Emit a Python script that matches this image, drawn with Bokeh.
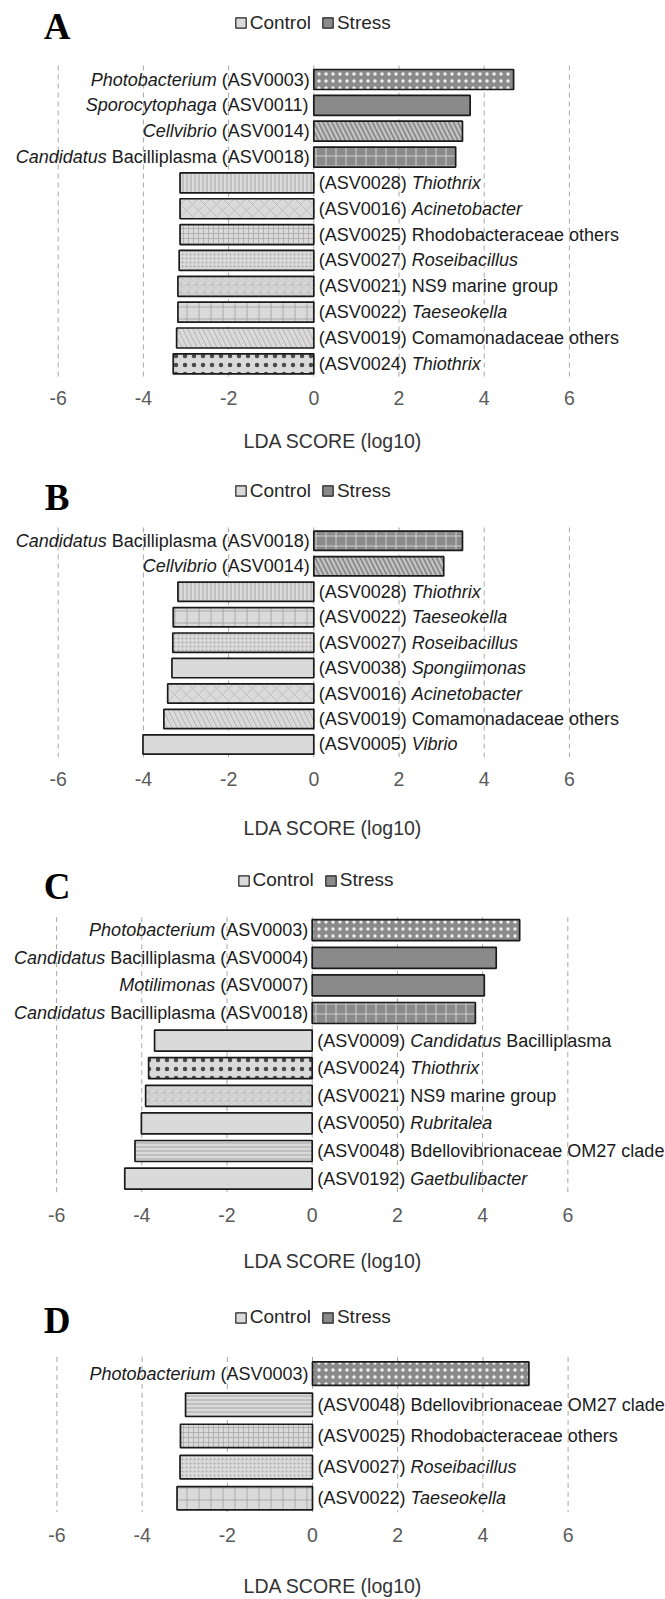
from bokeh.plotting import figure
from bokeh.layouts import column
from bokeh.models import Range1d, FixedTicker, Legend, LegendItem, Label, ColumnDataSource
from bokeh.core.properties import value
from bokeh.embed import file_html
from bokeh.resources import INLINE

# ---------------- data ----------------
ticks = [-6, -4, -2, 0, 2, 4, 6]
tick_labels = ["-6", "-4", "-2", "0", "2", "4", "6"]
legend_labels = ["Control", "Stress"]
axis_title = "LDA SCORE (log10)"
panel_letters = ["A", "B", "C", "D"]

a_asv = ["ASV0003", "ASV0011", "ASV0014", "ASV0018", "ASV0028", "ASV0016",
         "ASV0025", "ASV0027", "ASV0021", "ASV0022", "ASV0019", "ASV0024"]
a_taxa = ["Photobacterium", "Sporocytophaga", "Cellvibrio", "Candidatus Bacilliplasma",
          "Thiothrix", "Acinetobacter", "Rhodobacteraceae others", "Roseibacillus",
          "NS9 marine group", "Taeseokella", "Comamonadaceae others", "Thiothrix"]
a_lda = [4.69, 3.67, 3.49, 3.33, -3.14, -3.14, -3.14, -3.16, -3.19, -3.19, -3.22, -3.30]

b_asv = ["ASV0018", "ASV0014", "ASV0028", "ASV0022", "ASV0027", "ASV0038",
         "ASV0016", "ASV0019", "ASV0005"]
b_taxa = ["Candidatus Bacilliplasma", "Cellvibrio", "Thiothrix", "Taeseokella",
          "Roseibacillus", "Spongiimonas", "Acinetobacter", "Comamonadaceae others", "Vibrio"]
b_lda = [3.49, 3.05, -3.19, -3.30, -3.31, -3.33, -3.43, -3.52, -4.01]

c_asv = ["ASV0003", "ASV0004", "ASV0007", "ASV0018", "ASV0009", "ASV0024",
         "ASV0021", "ASV0050", "ASV0048", "ASV0192"]
c_taxa = ["Photobacterium", "Candidatus Bacilliplasma", "Motilimonas", "Candidatus Bacilliplasma",
          "Candidatus Bacilliplasma", "Thiothrix", "NS9 marine group", "Rubritalea",
          "Bdellovibrionaceae OM27 clade", "Gaetbulibacter"]
c_lda = [4.87, 4.32, 4.04, 3.83, -3.70, -3.84, -3.91, -4.01, -4.16, -4.40]

d_asv = ["ASV0003", "ASV0048", "ASV0025", "ASV0027", "ASV0022"]
d_taxa = ["Photobacterium", "Bdellovibrionaceae OM27 clade", "Rhodobacteraceae others",
          "Roseibacillus", "Taeseokella"]
d_lda = [5.08, -2.98, -3.10, -3.11, -3.18]

# ---------------- styles ----------------
DARK = "#8a8a8a"
LIGHT = "#dadada"
EDGE = "#1a1a1a"
# asv -> (hatch pattern, hatch colour, scale, weight)
PAT = {
    "ASV0003": ("dot", "#eeeeee", 7, 0.5),
    "ASV0011": ("blank", "#000000", 8, 1),
    "ASV0014": ("left_diagonal_line", "#c4c4c4", 9, 2.2),
    "ASV0018": ("cross", "#cfcfcf", 10, 1),
    "ASV0004": ("blank", "#000000", 8, 1),
    "ASV0007": ("blank", "#000000", 8, 1),
    "ASV0028": ("vertical_line", "#a8a8a8", 4, 1),
    "ASV0016": ("diagonal_cross", "#b8b8b8", 12, 0.8),
    "ASV0025": ("cross", "#a8a8a8", 5, 0.8),
    "ASV0027": ("dot", "#a8a8a8", 4, 0.5),
    "ASV0021": ("criss_cross", "#c2c2c2", 8, 1),
    "ASV0022": ("cross", "#a4a4a4", 12, 0.9),
    "ASV0019": ("left_diagonal_line", "#b4b4b4", 10, 1),
    "ASV0024": ("dot", "#4a4a4a", 9, 0.3),
    "ASV0038": ("blank", "#000000", 8, 1),
    "ASV0005": ("blank", "#000000", 8, 1),
    "ASV0009": ("blank", "#000000", 8, 1),
    "ASV0050": ("blank", "#000000", 8, 1),
    "ASV0048": ("horizontal_line", "#a4a4a4", 4, 1),
    "ASV0192": ("blank", "#000000", 8, 1),
}

# Arial / Liberation Sans advance widths (1/1000 em)
WID = {" ": 278, "(": 333, ")": 333, "A": 667, "B": 667, "C": 722, "D": 722, "E": 667,
       "F": 611, "G": 778, "H": 722, "I": 278, "J": 500, "K": 667, "L": 556, "M": 833,
       "N": 722, "O": 778, "P": 667, "Q": 778, "R": 722, "S": 667, "T": 611, "U": 722,
       "V": 667, "W": 944, "X": 667, "Y": 667, "Z": 611, "a": 556, "b": 556, "c": 500,
       "d": 556, "e": 556, "f": 278, "g": 556, "h": 556, "i": 222, "j": 222, "k": 500,
       "l": 222, "m": 833, "n": 556, "o": 556, "p": 556, "q": 556, "r": 333, "s": 500,
       "t": 278, "u": 556, "v": 500, "w": 722, "x": 500, "y": 500, "z": 500}
FS = 18.0


def tw(s):
    return sum(WID.get(ch, 556) for ch in s) / 1000.0 * FS


def label_pieces(taxon, asv, positive):
    words = taxon.split(" ")
    if len(words) == 1:
        tax = [(taxon, True)]
    elif words[0] == "Candidatus":
        tax = [("Candidatus", True), (" ".join(words[1:]), False)]
    else:
        tax = [(taxon, False)]
    tag = [("(" + asv + ")", False)]
    return tax + tag if positive else tag + tax


PXU = 42.6  # pixels per LDA unit
W = 665

# per panel layout: height, frame height, first bar centre, spacing, bar height,
# grid top, zero px, legend y, letter y, legend x, tick-label centre, title centre
GEOM = [
    dict(ph=460, fh=377, c0=79.0, sp=25.85, bh=20.0, gt=65.0, z=313.3, ly=22.7, lty=25.8, lx=233.7, tc=23.3, ttc=65.3),
    dict(ph=388, fh=297, c0=80.3, sp=25.46, bh=19.3, gt=67.0, z=313.3, ly=30.7, lty=36.7, lx=233.7, tc=24.0, ttc=72.0),
    dict(ph=441, fh=345, c0=81.7, sp=27.6, bh=21.0, gt=68.7, z=311.7, ly=32.0, lty=38.3, lx=236.5, tc=23.7, ttc=68.7),
    dict(ph=310, fh=224, c0=84.5, sp=31.3, bh=23.5, gt=67.7, z=312.0, ly=29.3, lty=31.0, lx=233.7, tc=24.7, ttc=75.3),
]


def make_panel(letter, asv, taxa, lda, g):
    n = len(lda)
    sp = g["sp"]
    y_bot = (g["fh"] - g["c0"]) / sp
    y_top = -g["c0"] / sp
    p = figure(width=W, height=g["ph"], output_backend="svg", toolbar_location=None,
               tools="", x_range=Range1d(-g["z"] / PXU, (W - g["z"]) / PXU),
               y_range=Range1d(y_bot, y_top), y_axis_location=None,
               min_border_left=0, min_border_right=0, min_border_top=0,
               min_border_bottom=g["ph"] - g["fh"])
    p.outline_line_color = None
    p.background_fill_color = "white"
    p.border_fill_color = "white"
    p.xgrid.visible = False
    p.ygrid.visible = False

    # dashed vertical grid lines limited to the plotting area
    gy0 = (g["gt"] - g["c0"]) / sp
    p.segment(x0=ticks, x1=ticks, y0=[gy0] * len(ticks), y1=[y_bot] * len(ticks),
              line_color="#a8a8a8", line_width=1, line_dash="5 4")

    ys = list(range(n))
    src = ColumnDataSource(dict(
        y=ys, v=lda,
        fill=[DARK if v > 0 else LIGHT for v in lda],
        hp=[PAT[a][0] for a in asv], hc=[PAT[a][1] for a in asv],
        hs=[PAT[a][2] for a in asv], hw=[PAT[a][3] for a in asv]))
    p.hbar(y="y", left=0, right="v", height=g["bh"] / sp, source=src,
           fill_color="fill", line_color=EDGE, line_width=1.7,
           hatch_pattern="hp", hatch_color="hc", hatch_scale="hs", hatch_weight="hw")

    # labels split into normal / italic pieces
    norm = dict(x=[], y=[], t=[], xo=[])
    ital = dict(x=[], y=[], t=[], xo=[])
    sw = tw(" ")
    for i, (a, t, v) in enumerate(zip(asv, taxa, lda)):
        pcs = label_pieces(t, a, v > 0)
        total = sum(tw(s) for s, _ in pcs) + sw * (len(pcs) - 1)
        cur = -4.0 - total if v > 0 else 5.0
        for s, it in pcs:
            d = ital if it else norm
            d["x"].append(0)
            d["y"].append(i)
            d["t"].append(s)
            d["xo"].append(cur)
            cur += tw(s) + sw
    for d, style in ((norm, "normal"), (ital, "italic")):
        p.text(x="x", y="y", text="t", x_offset="xo", source=ColumnDataSource(d),
               text_font=value("Liberation Sans"), text_font_size="18px",
               text_font_style=style, text_color="#1a1a1a",
               text_align="left", text_baseline="middle")

    # axis
    ax = p.xaxis[0]
    ax.ticker = FixedTicker(ticks=ticks)
    ax.major_label_overrides = {t: l for t, l in zip(ticks, tick_labels)}
    ax.axis_line_color = None
    ax.major_tick_line_color = None
    ax.minor_tick_line_color = None
    ax.major_tick_out = 0
    ax.major_tick_in = 0
    ax.major_label_text_font = "Liberation Sans"
    ax.major_label_text_font_size = "19.5px"
    ax.major_label_text_color = "#5a5a5a"
    tick_st = round(g["tc"] - 10)
    ax.major_label_standoff = tick_st
    ax.axis_label = axis_title
    ax.axis_label_text_font = "Liberation Sans"
    ax.axis_label_text_font_style = "normal"
    ax.axis_label_text_font_size = "19.5px"
    ax.axis_label_text_color = "#333333"
    ax.axis_label_standoff = max(0, round(g["ttc"] - tick_st - 30))

    # legend (single NaN point -> nothing drawn in the plot, swatch in the legend)
    rc = p.hbar(y="y", right="r", height=1, left=0,
                source=ColumnDataSource(dict(y=[float("nan")], r=[0.0])),
                fill_color=LIGHT, line_color="#222222", line_width=1.2)
    rs = p.hbar(y="y", right="r", height=1, left=0,
                source=ColumnDataSource(dict(y=[float("nan")], r=[0.0])),
                fill_color=DARK, line_color="#222222", line_width=1.2)
    leg = Legend(items=[LegendItem(label=legend_labels[0], renderers=[rc]),
                        LegendItem(label=legend_labels[1], renderers=[rs])],
                 orientation="horizontal", location=(g["lx"], g["fh"] - g["ly"] - 11),
                 padding=0, margin=0, spacing=10, label_standoff=3,
                 glyph_width=13, glyph_height=13, label_height=22,
                 label_text_font="Liberation Sans", label_text_font_size="19px",
                 label_text_color="#262626", border_line_color=None,
                 background_fill_alpha=0)
    p.add_layout(leg)

    # panel letter
    p.add_layout(Label(x=(56.7 - g["z"]) / PXU, y=(g["lty"] - g["c0"]) / sp, text=letter,
                       text_font="Liberation Serif", text_font_style="bold",
                       text_font_size="37px", text_color="#000000",
                       text_align="center", text_baseline="middle"))
    return p


panels = [
    make_panel(panel_letters[0], a_asv, a_taxa, a_lda, GEOM[0]),
    make_panel(panel_letters[1], b_asv, b_taxa, b_lda, GEOM[1]),
    make_panel(panel_letters[2], c_asv, c_taxa, c_lda, GEOM[2]),
    make_panel(panel_letters[3], d_asv, d_taxa, d_lda, GEOM[3]),
]
layout = column(*panels, spacing=0)
open("out.html", "w").write(file_html(layout, INLINE))
